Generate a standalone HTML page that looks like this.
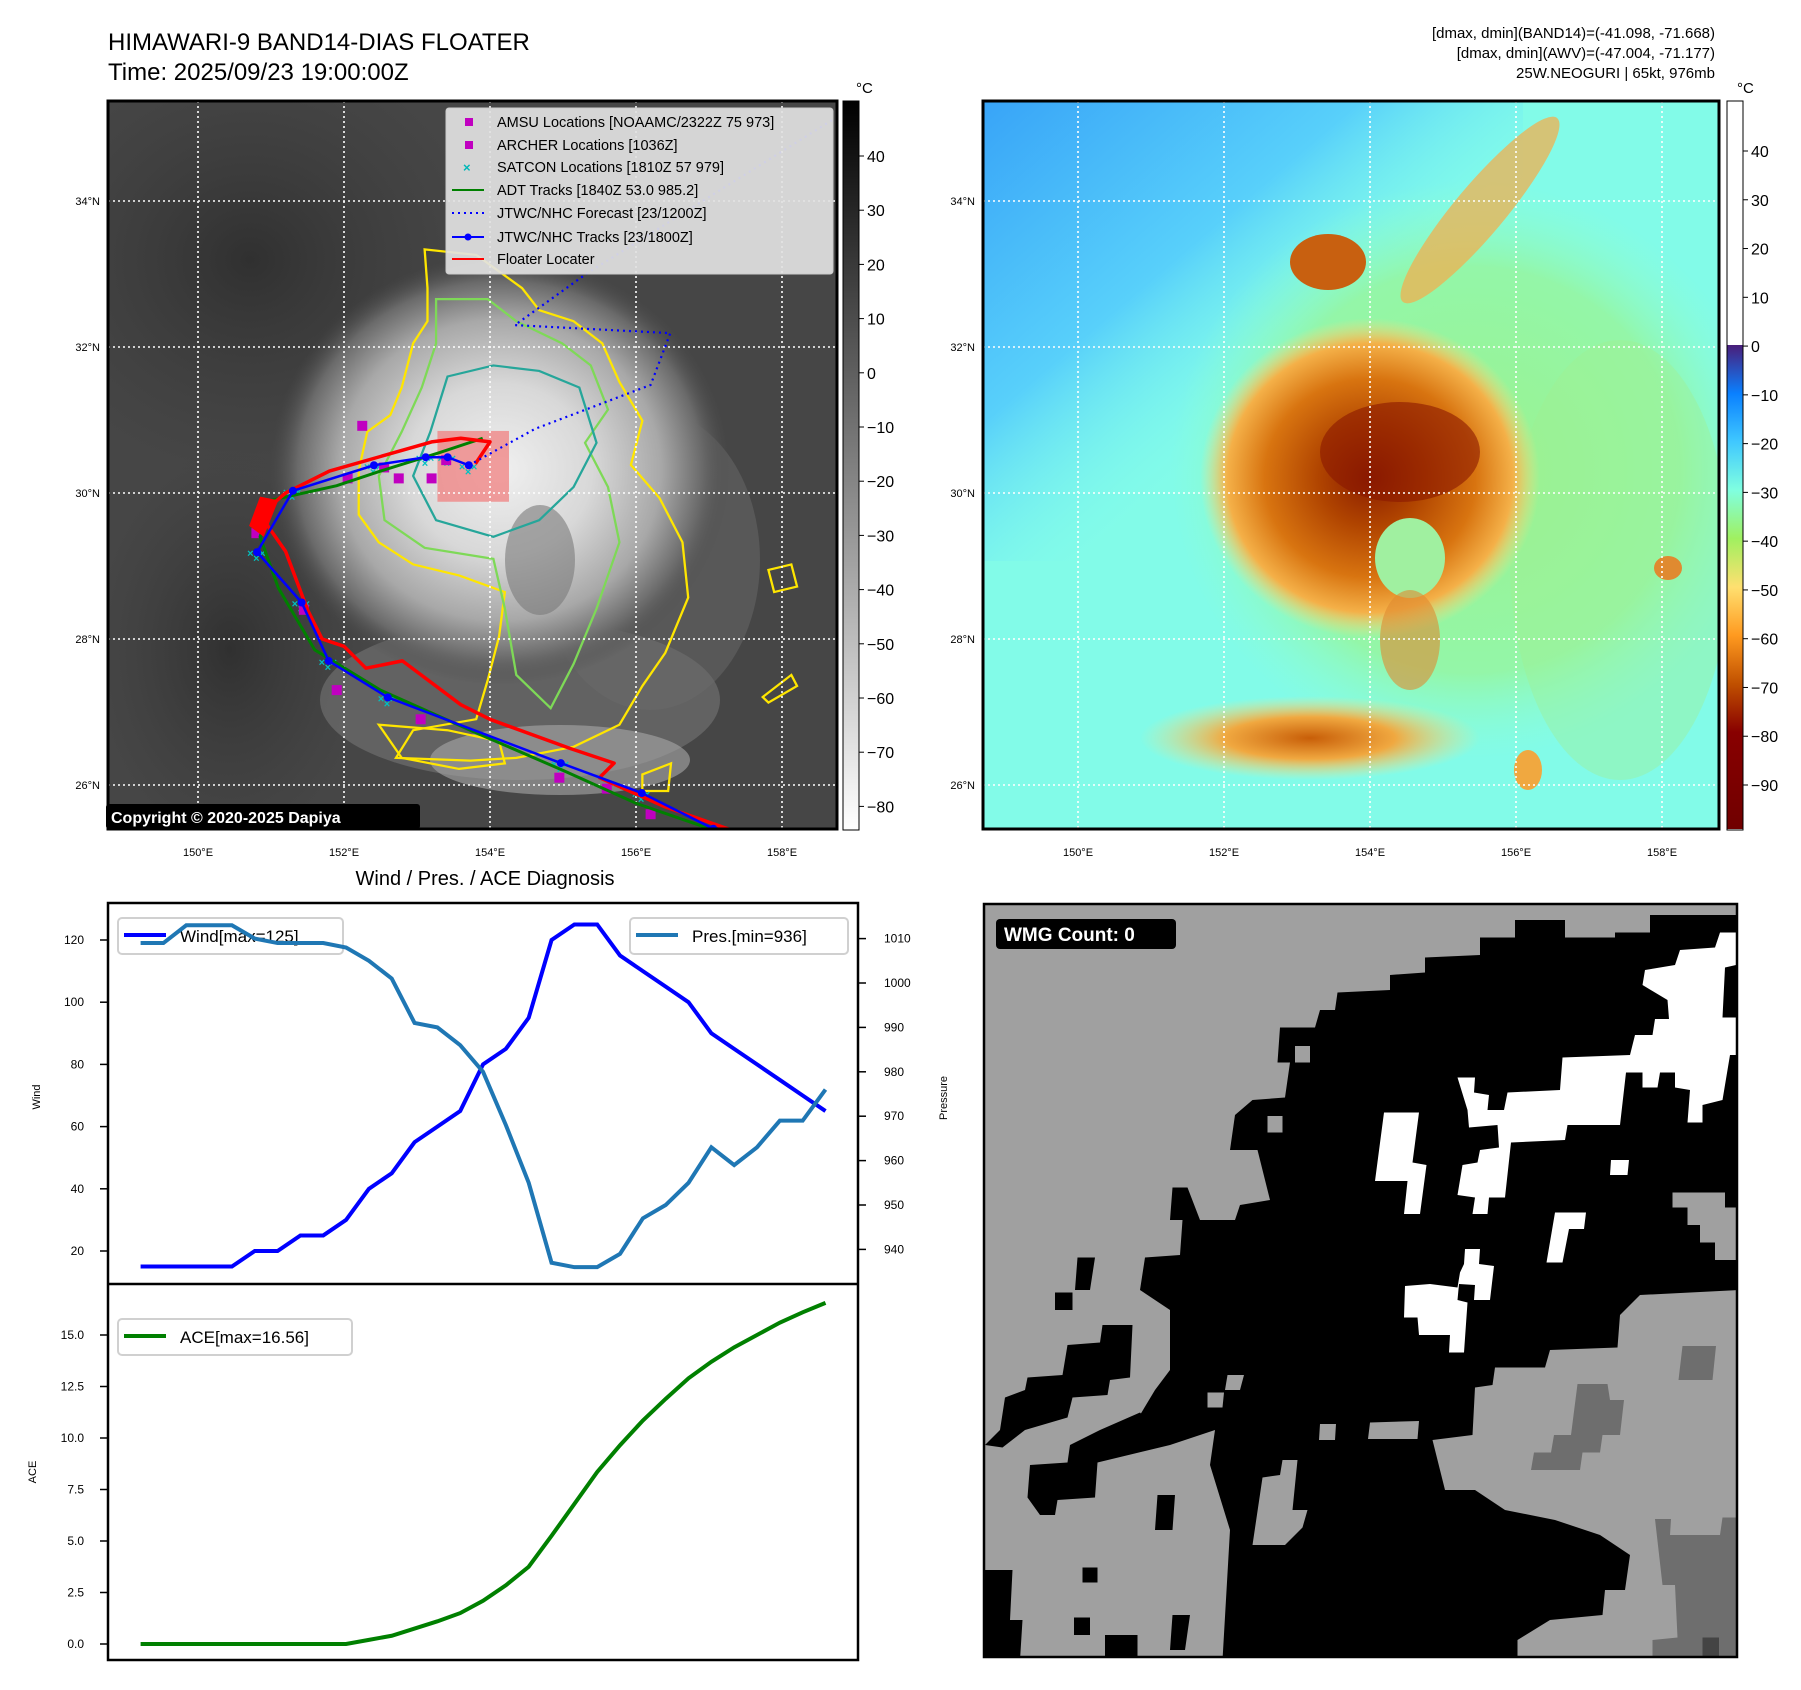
<!DOCTYPE html>
<html><head><meta charset="utf-8">
<style>
html,body{margin:0;padding:0;background:#fff;}
svg{display:block;font-family:"Liberation Sans","DejaVu Sans",sans-serif;}
</style></head>
<body>
<svg id="fig" width="1801" height="1690" viewBox="0 0 1801 1690" xmlns="http://www.w3.org/2000/svg">
<defs>
 <radialGradient id="stormL" cx="0.5" cy="0.5" r="0.5">
  <stop offset="0" stop-color="#f0f0f0"/><stop offset="0.4" stop-color="#d8d8d8"/>
  <stop offset="0.7" stop-color="#a8a8a8"/><stop offset="0.88" stop-color="#6a6a6a"/><stop offset="1" stop-color="#4c4c4c" stop-opacity="0"/>
 </radialGradient>
 <radialGradient id="darkL" cx="0.5" cy="0.5" r="0.5">
  <stop offset="0" stop-color="#303030"/><stop offset="1" stop-color="#3c3c3c" stop-opacity="0"/>
 </radialGradient>
 <radialGradient id="stormR" cx="0.5" cy="0.5" r="0.5">
  <stop offset="0" stop-color="#8a1c00"/><stop offset="0.3" stop-color="#b04400"/>
  <stop offset="0.62" stop-color="#d87410"/><stop offset="0.84" stop-color="#f4b048"/>
  <stop offset="1" stop-color="#ffe080" stop-opacity="0"/>
 </radialGradient>
 <radialGradient id="greenR" cx="0.5" cy="0.5" r="0.5">
  <stop offset="0" stop-color="#a0f078"/><stop offset="0.7" stop-color="#98f598"/><stop offset="1" stop-color="#90ffd0" stop-opacity="0"/>
 </radialGradient>
 <radialGradient id="bandR" cx="0.5" cy="0.5" r="0.5">
  <stop offset="0" stop-color="#c85e08"/><stop offset="0.5" stop-color="#f0a840"/><stop offset="1" stop-color="#ffe080" stop-opacity="0"/>
 </radialGradient>
 <linearGradient id="blueR" x1="0" y1="0" x2="1" y2="1">
  <stop offset="0" stop-color="#38a4f8"/><stop offset="0.35" stop-color="#58d0fa"/><stop offset="0.6" stop-color="#80fbf0" stop-opacity="0"/>
 </linearGradient>
 <linearGradient id="cbL" x1="0" y1="0" x2="0" y2="1">
  <stop offset="0" stop-color="#000"/><stop offset="1" stop-color="#fff"/>
 </linearGradient>
 <linearGradient id="cbR" x1="0" y1="0" x2="0" y2="1">
  <stop offset="0" stop-color="#4a1e7a"/><stop offset="0.1" stop-color="#0a80ff"/>
  <stop offset="0.2" stop-color="#40c8ff"/><stop offset="0.3" stop-color="#80ffe0"/>
  <stop offset="0.4" stop-color="#a0f060"/><stop offset="0.5" stop-color="#ffe070"/>
  <stop offset="0.6" stop-color="#ff9a20"/><stop offset="0.7" stop-color="#c05000"/>
  <stop offset="0.8" stop-color="#880000"/><stop offset="1" stop-color="#700000"/>
 </linearGradient>
 <clipPath id="clipL"><rect x="108" y="101" width="729" height="728"/></clipPath>
 <clipPath id="clipR"><rect x="983" y="101" width="736" height="728"/></clipPath>
 <clipPath id="clipW"><rect x="984" y="904" width="753" height="753"/></clipPath>
</defs>

<text x="108" y="50" font-size="24">HIMAWARI-9 BAND14-DIAS FLOATER</text>
<text x="108" y="80" font-size="24">Time: 2025/09/23 19:00:00Z</text>
<text x="1715" y="38" font-size="15" text-anchor="end">[dmax, dmin](BAND14)=(-41.098, -71.668)</text>
<text x="1715" y="58" font-size="15" text-anchor="end">[dmax, dmin](AWV)=(-47.004, -71.177)</text>
<text x="1715" y="78" font-size="15" text-anchor="end">25W.NEOGURI | 65kt, 976mb</text>

<!-- LEFT MAP -->
<g clip-path="url(#clipL)">
 <rect x="108" y="101" width="729" height="728" fill="#464646"/>
 <ellipse cx="250" cy="260" rx="240" ry="220" fill="url(#darkL)"/>
 <ellipse cx="230" cy="650" rx="140" ry="200" fill="url(#darkL)"/>
 <ellipse cx="520" cy="700" rx="200" ry="80" fill="#7a7a7a" opacity="0.55"/>
 <ellipse cx="560" cy="760" rx="130" ry="35" fill="#a8a8a8" opacity="0.6"/>
 <ellipse cx="650" cy="560" rx="110" ry="150" fill="#6a6a6a" opacity="0.5"/>
 <ellipse cx="500" cy="470" rx="230" ry="215" fill="url(#stormL)"/>
 <ellipse cx="540" cy="560" rx="35" ry="55" fill="#7a7a7a" opacity="0.6"/>
 <g transform="matrix(0.573,0,0,0.5527,0.6,-10.4)" fill="none" stroke-width="4">
  <path stroke="#ffe600" d="M740,470 L745,540 L745,600 L720,640 L700,720 L680,770 L640,800 L625,870 L625,950 L660,1000 L720,1040 L800,1060 L880,1090 L870,1170 L850,1250 L830,1320 L720,1340 L690,1390 L820,1395 L900,1390 L1000,1370 L1080,1330 L1120,1260 L1160,1200 L1200,1100 L1190,1000 L1150,920 L1100,860 L1120,780 L1080,710 L1050,640 L1000,600 L940,580 L910,540 L870,510 L830,480 Z"/>
  <path stroke="#7ed957" d="M760,560 L760,640 L735,720 L700,800 L660,880 L670,960 L740,1010 L860,1030 L880,1120 L900,1240 L960,1300 L1000,1220 L1040,1120 L1080,1000 L1060,900 L1020,820 L1060,760 L1030,680 L980,640 L900,600 L850,560 Z"/>
  <path stroke="#26a69a" d="M780,700 L750,800 L720,880 L760,960 L860,990 L940,960 L1000,900 L1040,820 L1010,720 L940,690 L860,680 Z"/>
  <path stroke="#ffe600" d="M660,1330 L700,1390 L800,1410 L880,1400 L870,1360 L780,1340 Z"/>
  <path stroke="#ffe600" d="M1340,1050 L1380,1040 L1390,1080 L1350,1090 Z M1330,1280 L1380,1240 L1390,1260 L1340,1290 Z M1120,1420 L1170,1400 L1165,1450 L1120,1450 Z"/>
 </g>
 <rect id="floaterBox" x="0" y="0" width="0" height="0" fill="#f08080" opacity="0.75"/>
 <g id="gridL"></g>
 <g id="tracks"></g>
</g>
<rect x="108" y="101" width="729" height="728" fill="none" stroke="#000" stroke-width="3"/>
<g>
 <rect x="446" y="108" width="387" height="166" rx="3" fill="#e2e2e2" fill-opacity="0.92" stroke="#ccc"/>
 <rect x="465" y="118" width="8" height="8" fill="#c000c0"/>
 <text x="497" y="127" font-size="14.5">AMSU Locations [NOAAMC/2322Z 75 973]</text>
 <rect x="465" y="141" width="8" height="8" fill="#c000c0"/>
 <text x="497" y="150" font-size="14.5">ARCHER Locations [1036Z]</text>
 <text x="463" y="172" font-size="13" fill="#00b8b8" font-weight="bold">×</text>
 <text x="497" y="172" font-size="14.5">SATCON Locations [1810Z 57 979]</text>
 <line x1="452" y1="190" x2="484" y2="190" stroke="green" stroke-width="2"/>
 <text x="497" y="195" font-size="14.5">ADT Tracks [1840Z 53.0 985.2]</text>
 <line x1="452" y1="213" x2="484" y2="213" stroke="blue" stroke-width="2" stroke-dasharray="2,4"/>
 <text x="497" y="218" font-size="14.5">JTWC/NHC Forecast [23/1200Z]</text>
 <line x1="452" y1="237" x2="484" y2="237" stroke="blue" stroke-width="2"/><circle cx="468" cy="237" r="3.5" fill="blue"/>
 <text x="497" y="242" font-size="14.5">JTWC/NHC Tracks [23/1800Z]</text>
 <line x1="452" y1="259" x2="484" y2="259" stroke="red" stroke-width="2"/>
 <text x="497" y="264" font-size="14.5">Floater Locater</text>
</g>
<g>
 <rect x="106" y="804" width="314" height="25" rx="3" fill="#000"/>
 <text x="111" y="823" font-size="16" font-weight="bold" fill="#fff">Copyright © 2020-2025 Dapiya</text>
</g>
<rect x="843" y="101" width="16" height="729" fill="url(#cbL)" stroke="#000" stroke-width="1"/>
<text x="856" y="93" font-size="15">°C</text>
<g id="cbLticks" font-size="16"></g>
<g id="latlonL" font-size="11"></g>

<!-- RIGHT MAP -->
<g clip-path="url(#clipR)">
 <rect x="983" y="101" width="736" height="728" fill="#82fbe8"/>
 <rect x="983" y="101" width="540" height="460" fill="url(#blueR)"/>
 <ellipse cx="1470" cy="470" rx="300" ry="290" fill="url(#greenR)" opacity="0.8"/>
 <ellipse cx="1620" cy="560" rx="110" ry="220" fill="#a0f090" opacity="0.4"/>
 <ellipse cx="1480" cy="210" rx="25" ry="120" transform="rotate(40 1480 210)" fill="#f0b050" opacity="0.75"/>
 <ellipse cx="1328" cy="262" rx="38" ry="28" fill="#c86010"/>
 <ellipse cx="1310" cy="738" rx="170" ry="42" fill="url(#bandR)"/>
 <ellipse cx="1370" cy="478" rx="170" ry="160" fill="url(#stormR)"/>
 <ellipse cx="1400" cy="452" rx="80" ry="50" fill="#8a1800" opacity="0.6"/>
 <ellipse cx="1410" cy="558" rx="35" ry="40" fill="#a0f0a0"/>
 <ellipse cx="1410" cy="640" rx="30" ry="50" fill="#e08a30" opacity="0.6"/>
 <ellipse cx="1668" cy="568" rx="14" ry="12" fill="#e08a30"/>
 <ellipse cx="1528" cy="770" rx="14" ry="20" fill="#f0a840"/>
 <g id="gridR"></g>
</g>
<rect x="983" y="101" width="736" height="728" fill="none" stroke="#000" stroke-width="3"/>
<rect x="1727" y="101" width="16" height="729" fill="#fff" stroke="#000" stroke-width="1"/>
<rect x="1727.5" y="345" width="15" height="484" fill="url(#cbR)"/>
<text x="1737" y="93" font-size="15">°C</text>
<g id="cbRticks" font-size="16"></g>
<g id="latlonR" font-size="11"></g>

<text x="485" y="885" font-size="20" text-anchor="middle">Wind / Pres. / ACE Diagnosis</text>
<g id="chart"></g>

<!-- WMG -->
<g clip-path="url(#clipW)">
 <rect x="984" y="904" width="753" height="753" fill="#a0a0a0"/>
 <g transform="translate(980,890) scale(0.5)">
  <path fill="#000" d="M1070,60 L1170,60 L1170,95 L1270,95 L1270,85 L1340,85 L1340,50 L1520,50 L1520,800 L1320,810 L1280,850 L1275,915 L1140,920 L1130,955 L1030,955 L1025,990 L990,995 L985,1090 L905,1100 L930,1200 L990,1200 L1050,1240 L1150,1260 L1240,1290 L1300,1330 L1290,1400 L1250,1400 L1245,1450 L1140,1460 L1075,1500 L1075,1540 L485,1540 L500,1280 L460,1150 L470,1080 L380,1110 L310,1110 L320,1050 L350,1000 L380,960 L380,840 L320,800 L330,735 L400,730 L405,660 L380,660 L385,595 L415,595 L440,660 L510,660 L520,630 L580,620 L555,520 L500,520 L510,450 L545,420 L610,415 L620,345 L595,345 L600,275 L670,275 L680,240 L710,240 L715,205 L820,200 L820,170 L890,165 L890,135 L1000,130 L1000,95 L1070,95 Z"/>
  <path fill="#000" d="M10,1110 L40,1080 L50,1015 L90,1000 L95,975 L165,970 L175,910 L240,905 L245,870 L305,870 L300,975 L260,980 L255,1010 L185,1015 L175,1055 L90,1080 L45,1115 Z"/>
  <path fill="#000" d="M95,1215 L100,1150 L175,1145 L180,1110 L240,1080 L320,1045 L380,1110 L235,1145 L230,1215 L155,1220 L150,1250 L120,1250 Z"/>
  <path fill="#000" d="M8,1360 L65,1360 L60,1460 L85,1460 L80,1540 L8,1540 Z"/>
  <path fill="#000" d="M150,805 L185,805 L185,840 L150,840 Z M195,735 L230,735 L220,800 L190,800 Z M355,1210 L390,1210 L385,1280 L350,1280 Z M205,1355 L235,1355 L235,1385 L205,1385 Z M188,1455 L220,1455 L220,1490 L188,1490 Z M385,1450 L420,1450 L410,1520 L380,1520 Z M250,1490 L315,1490 L315,1540 L250,1540 Z"/>
  <path fill="#a0a0a0" d="M630,312 L660,312 L660,345 L630,345 Z M575,452 L605,452 L605,485 L575,485 Z M495,970 L528,970 L520,1000 L490,1000 Z M455,1005 L488,1005 L485,1035 L455,1035 Z M680,1068 L712,1068 L710,1100 L678,1100 Z M780,1065 L878,1062 L875,1098 L776,1098 Z M565,1175 L600,1170 L605,1140 L635,1140 L625,1240 L655,1240 L645,1275 L610,1310 L545,1310 Z"/>
  <path fill="#fff" d="M808,445 L878,445 L865,545 L893,550 L880,648 L848,648 L855,582 L790,582 Z M955,375 L990,375 L988,405 L1018,410 L1015,440 L1048,440 L1055,405 L1160,400 L1165,335 L1300,330 L1310,290 L1345,290 L1350,258 L1378,258 L1375,220 L1325,190 L1330,160 L1390,150 L1400,120 L1470,115 L1480,85 L1512,85 L1512,150 L1490,155 L1485,255 L1512,255 L1512,330 L1500,330 L1485,420 L1445,430 L1445,465 L1415,465 L1420,400 L1390,395 L1390,365 L1360,365 L1355,395 L1325,395 L1325,365 L1292,365 L1280,470 L1175,470 L1170,500 L1062,505 L1050,615 L1018,615 L1015,648 L985,648 L990,615 L955,610 L965,550 L995,545 L1000,520 L1038,515 L1035,470 L978,475 L975,440 Z M1148,440 L1178,440 L1175,470 L1145,470 Z M1262,540 L1298,540 L1295,570 L1260,570 Z M1150,645 L1212,645 L1208,678 L1178,678 L1165,745 L1133,745 Z M970,718 L1000,718 L998,748 L1028,752 L1020,820 L988,820 L990,790 L958,788 L955,820 L975,825 L968,925 L938,925 L940,890 L878,890 L875,855 L848,855 L850,792 L900,788 L955,795 L960,765 L968,748 Z"/>
  <path fill="#a0a0a0" d="M1385,605 L1490,605 L1490,635 L1512,635 L1512,740 L1470,740 L1470,705 L1440,705 L1440,670 L1415,670 L1415,635 L1385,635 Z"/>
  <path fill="#6e6e6e" d="M1405,912 L1472,912 L1465,980 L1397,980 Z M1195,988 L1255,988 L1260,1020 L1288,1020 L1280,1090 L1245,1090 L1240,1125 L1205,1125 L1200,1160 L1102,1160 L1108,1125 L1142,1125 L1148,1090 L1182,1090 Z M1350,1258 L1382,1258 L1380,1290 L1480,1290 L1485,1255 L1520,1255 L1520,1540 L1345,1540 L1345,1500 L1395,1495 L1390,1390 L1365,1390 Z"/>
  <path fill="#444" d="M1445,1495 L1478,1495 L1478,1535 L1445,1535 Z"/>
 </g>
</g>
<rect x="984" y="904" width="753" height="753" fill="none" stroke="#000" stroke-width="2.5"/>
<g>
 <rect x="996" y="919" width="180" height="30" rx="4" fill="#000"/>
 <text x="1004" y="941" font-size="19" font-weight="bold" fill="#fff">WMG Count: 0</text>
</g>
</svg>
<script>
var NS="http://www.w3.org/2000/svg";
var windValues=[15,15,15,15,15,20,20,25,25,30,40,45,55,60,65,80,85,95,120,125,125,115,110,105,100,90,85,80,75,70,65];
var presValues=[1009,1009,1013,1013,1013,1010,1009,1009,1009,1008,1005,1001,991,990,986,980,968,955,937,936,936,939,947,950,955,963,959,963,969,969,976];
var aceValues=[0,0,0,0,0,0,0,0,0,0,0.2,0.4,0.75,1.1,1.5,2.1,2.85,3.75,5.25,6.8,8.35,9.65,10.85,11.9,12.9,13.7,14.4,15.0,15.6,16.1,16.56];
var windTicks=[20,40,60,80,100,120];
var presTicks=[940,950,960,970,980,990,1000,1010];
var aceTicks=[0,2.5,5,7.5,10,12.5,15];
var cbLTicks=[40,30,20,10,0,-10,-20,-30,-40,-50,-60,-70,-80];
var cbRTicks=[40,30,20,10,0,-10,-20,-30,-40,-50,-60,-70,-80,-90];
var lonTicks=[150,152,154,156,158];
var latTicks=[26,28,30,32,34];
var jtwcLon=[157.3,157.06,156.08,154.97,152.60,151.79,151.42,150.81,151.30,152.41,153.12,153.42,153.71];
var jtwcLat=[25.30,25.40,25.89,26.30,27.20,27.70,28.50,29.19,30.03,30.38,30.49,30.49,30.38];
var fcstLon=[153.71,154.62,156.20,156.47,154.34,155.33,158.72];
var fcstLat=[30.38,30.88,31.48,32.19,32.30,33.01,35.13];
var adtLon=[157.3,156.0,155.0,153.8,152.5,151.6,151.1,150.85,151.0,151.9,152.5,153.3,153.9];
var adtLat=[25.30,25.75,26.20,26.72,27.30,27.85,28.70,29.40,29.90,30.10,30.30,30.55,30.75];
var floaterLon=[157.4,156.4,155.5,155.7,155.1,154.0,153.6,152.8,152.3,152.0,151.7,151.5,151.2,150.85,151.2,151.8,152.5,153.2,153.6,154.0,153.8];
var floaterLat=[25.35,25.70,26.10,26.30,26.50,26.90,27.10,27.70,27.60,27.90,28.00,28.40,29.20,29.70,30.00,30.30,30.50,30.70,30.75,30.70,30.40];
var amsuLon=[150.8,150.85,151.45,151.9,152.25,152.55,152.75,153.2,153.4,154.95,155.6,156.2,153.05,152.05];
var amsuLat=[29.45,29.65,28.40,27.30,30.92,30.35,30.20,30.20,30.45,26.10,25.95,25.60,26.90,30.20];
var floaterBoxLon=[153.28,154.26];
var floaterBoxLat=[30.85,29.88];

function mk(tag,attrs,parent){var e=document.createElementNS(NS,tag);for(var k in attrs)e.setAttribute(k,attrs[k]);parent.appendChild(e);return e;}
function lx(lon){return 198+(lon-150)*73;}
function ly(lat){return 201+(34-lat)*73;}
function rx(lon){return 1078+(lon-150)*73;}

var gL=document.getElementById('gridL'),gR=document.getElementById('gridR');
var llL=document.getElementById('latlonL'),llR=document.getElementById('latlonR');
lonTicks.forEach(function(lo){
 var l1=mk('line',{x1:lx(lo),y1:101,x2:lx(lo),y2:829,stroke:'#fff','stroke-width':1.6,'stroke-dasharray':'2,3'},gL);
 
 var l2=mk('line',{x1:rx(lo),y1:101,x2:rx(lo),y2:829,stroke:'#fff','stroke-width':1.6,'stroke-dasharray':'2,3'},gR);
 
 var t1=mk('text',{x:lx(lo),y:856,'text-anchor':'middle'},llL);t1.textContent=lo+'°E';
 
 var t2=mk('text',{x:rx(lo),y:856,'text-anchor':'middle'},llR);t2.textContent=lo+'°E';
 
});
latTicks.forEach(function(la){
 var y=ly(la);
 var l1=mk('line',{x1:108,y1:y,x2:837,y2:y,stroke:'#fff','stroke-width':1.6,'stroke-dasharray':'2,3'},gL);
 
 var l2=mk('line',{x1:983,y1:y,x2:1719,y2:y,stroke:'#fff','stroke-width':1.6,'stroke-dasharray':'2,3'},gR);
 
 var t1=mk('text',{x:100,y:y+4,'text-anchor':'end'},llL);t1.textContent=la+'°N';
 
 var t2=mk('text',{x:975,y:y+4,'text-anchor':'end'},llR);t2.textContent=la+'°N';
 
});
var cL=document.getElementById('cbLticks');
cbLTicks.forEach(function(v){var y=156+(40-v)*5.42;
 mk('line',{x1:859,y1:y,x2:864,y2:y,stroke:'#000'},cL);
 var t=mk('text',{x:867,y:y+6},cL);t.textContent=v<0?'\u2212'+(-v):v;
 });
var cR=document.getElementById('cbRticks');
cbRTicks.forEach(function(v){var y=151+(40-v)*4.877;
 mk('line',{x1:1743,y1:y,x2:1748,y2:y,stroke:'#000'},cR);
 var t=mk('text',{x:1751,y:y+6},cR);t.textContent=v<0?'\u2212'+(-v):v;
 });

var tr=document.getElementById('tracks');
function pts(lo,la){return lo.map(function(v,i){return lx(v)+','+ly(la[i]);}).join(' ');}
var fb=document.getElementById('floaterBox');
fb.setAttribute('x',lx(floaterBoxLon[0]));fb.setAttribute('y',ly(floaterBoxLat[0]));
fb.setAttribute('width',lx(floaterBoxLon[1])-lx(floaterBoxLon[0]));fb.setAttribute('height',ly(floaterBoxLat[1])-ly(floaterBoxLat[0]));
jtwcLon.forEach(function(v,i){for(var k=0;k<3;k++){var c=mk('text',{x:lx(v)+(k-1)*6-4,y:ly(jtwcLat[i])+(k%2)*5+5,'font-size':11,fill:'#00c0c0','font-weight':'bold'},tr);c.textContent='×';
 }});
amsuLon.forEach(function(v,i){var r=mk('rect',{x:lx(v)-5,y:ly(amsuLat[i])-5,width:10,height:10,fill:'#c000c0'},tr);
 });
var a=mk('polyline',{points:pts(adtLon,adtLat),fill:'none',stroke:'green','stroke-width':3},tr);

var f=mk('polyline',{points:pts(floaterLon,floaterLat),fill:'none',stroke:'red','stroke-width':3.5,'stroke-linejoin':'round'},tr);

var fb2=mk('polygon',{points:lx(150.85)+','+ly(29.95)+' '+lx(151.1)+','+ly(29.9)+' '+lx(150.9)+','+ly(29.4)+' '+lx(150.7)+','+ly(29.55),fill:'red'},tr);

var j=mk('polyline',{points:pts(jtwcLon,jtwcLat),fill:'none',stroke:'blue','stroke-width':2.5},tr);

jtwcLon.forEach(function(v,i){if(i==0)return;var c=mk('circle',{cx:lx(v),cy:ly(jtwcLat[i]),r:4,fill:'blue'},tr);
 });
var fc=mk('polyline',{points:pts(fcstLon,fcstLat),fill:'none',stroke:'blue','stroke-width':2.2,'stroke-dasharray':'2,4'},tr);


var ch=document.getElementById('chart');
function cx(i){return 140.6+i*22.83;}
function wy(w){return 940+(120-w)*3.11;}
function py(p){return 938.6+(1010-p)*4.44;}
function ay(v){return 1644-v*20.6;}
mk('rect',{x:108,y:903,width:750,height:757,fill:'#fff',stroke:'#000','stroke-width':2.5},ch);
mk('line',{x1:108,y1:1284,x2:858,y2:1284,stroke:'#000','stroke-width':2.5},ch);
windTicks.forEach(function(v){var y=wy(v);mk('line',{x1:100,y1:y,x2:108,y2:y,stroke:'#000','stroke-width':1.5},ch);
 var t=mk('text',{x:84,y:y+4,'font-size':12,'text-anchor':'end'},ch);t.textContent=v;
 });
presTicks.forEach(function(v){var y=py(v);mk('line',{x1:858,y1:y,x2:866,y2:y,stroke:'#000','stroke-width':1.5},ch);
 var t=mk('text',{x:884,y:y+4,'font-size':12},ch);t.textContent=v;
 });
aceTicks.forEach(function(v){var y=ay(v);mk('line',{x1:100,y1:y,x2:108,y2:y,stroke:'#000','stroke-width':1.5},ch);
 var t=mk('text',{x:84,y:y+4,'font-size':12,'text-anchor':'end'},ch);t.textContent=v.toFixed(1);
 });
var yl=mk('text',{x:0,y:0,'font-size':11,'text-anchor':'middle',transform:'translate(40,1097) rotate(-90)'},ch);yl.textContent='Wind';

var pl=mk('text',{x:0,y:0,'font-size':11,'text-anchor':'middle',transform:'translate(947,1098) rotate(-90)'},ch);pl.textContent='Pressure';

var al=mk('text',{x:0,y:0,'font-size':11,'text-anchor':'middle',transform:'translate(36,1472) rotate(-90)'},ch);al.textContent='ACE';

var pw=mk('polyline',{points:windValues.map(function(v,i){return cx(i)+','+wy(v);}).join(' '),fill:'none',stroke:'#0000ff','stroke-width':4},ch);

var pp=mk('polyline',{points:presValues.map(function(v,i){return cx(i)+','+py(v);}).join(' '),fill:'none',stroke:'#1f77b4','stroke-width':4},ch);

var pa=mk('polyline',{points:aceValues.map(function(v,i){return cx(i)+','+ay(v);}).join(' '),fill:'none',stroke:'#008000','stroke-width':4},ch);

function legend(x,y,w,color,label,name){
 var g=mk('g',{},ch);
 
 
 mk('rect',{x:x,y:y,width:w,height:36,rx:4,fill:'#fff','fill-opacity':0.8,stroke:'#d0d0d0','stroke-width':2},g);
 mk('line',{x1:x+6,y1:y+17,x2:x+48,y2:y+17,stroke:color,'stroke-width':4},g);
 var t=mk('text',{x:x+62,y:y+24,'font-size':17},g);t.textContent=label;
}
legend(118,918,225,'#0000ff','Wind[max=125]','wind-legend');
legend(630,918,218,'#1f77b4','Pres.[min=936]','pressure-legend');
legend(118,1319,234,'#008000','ACE[max=16.56]','ace-legend');
ch.appendChild(pp);
</script>
</body></html>
